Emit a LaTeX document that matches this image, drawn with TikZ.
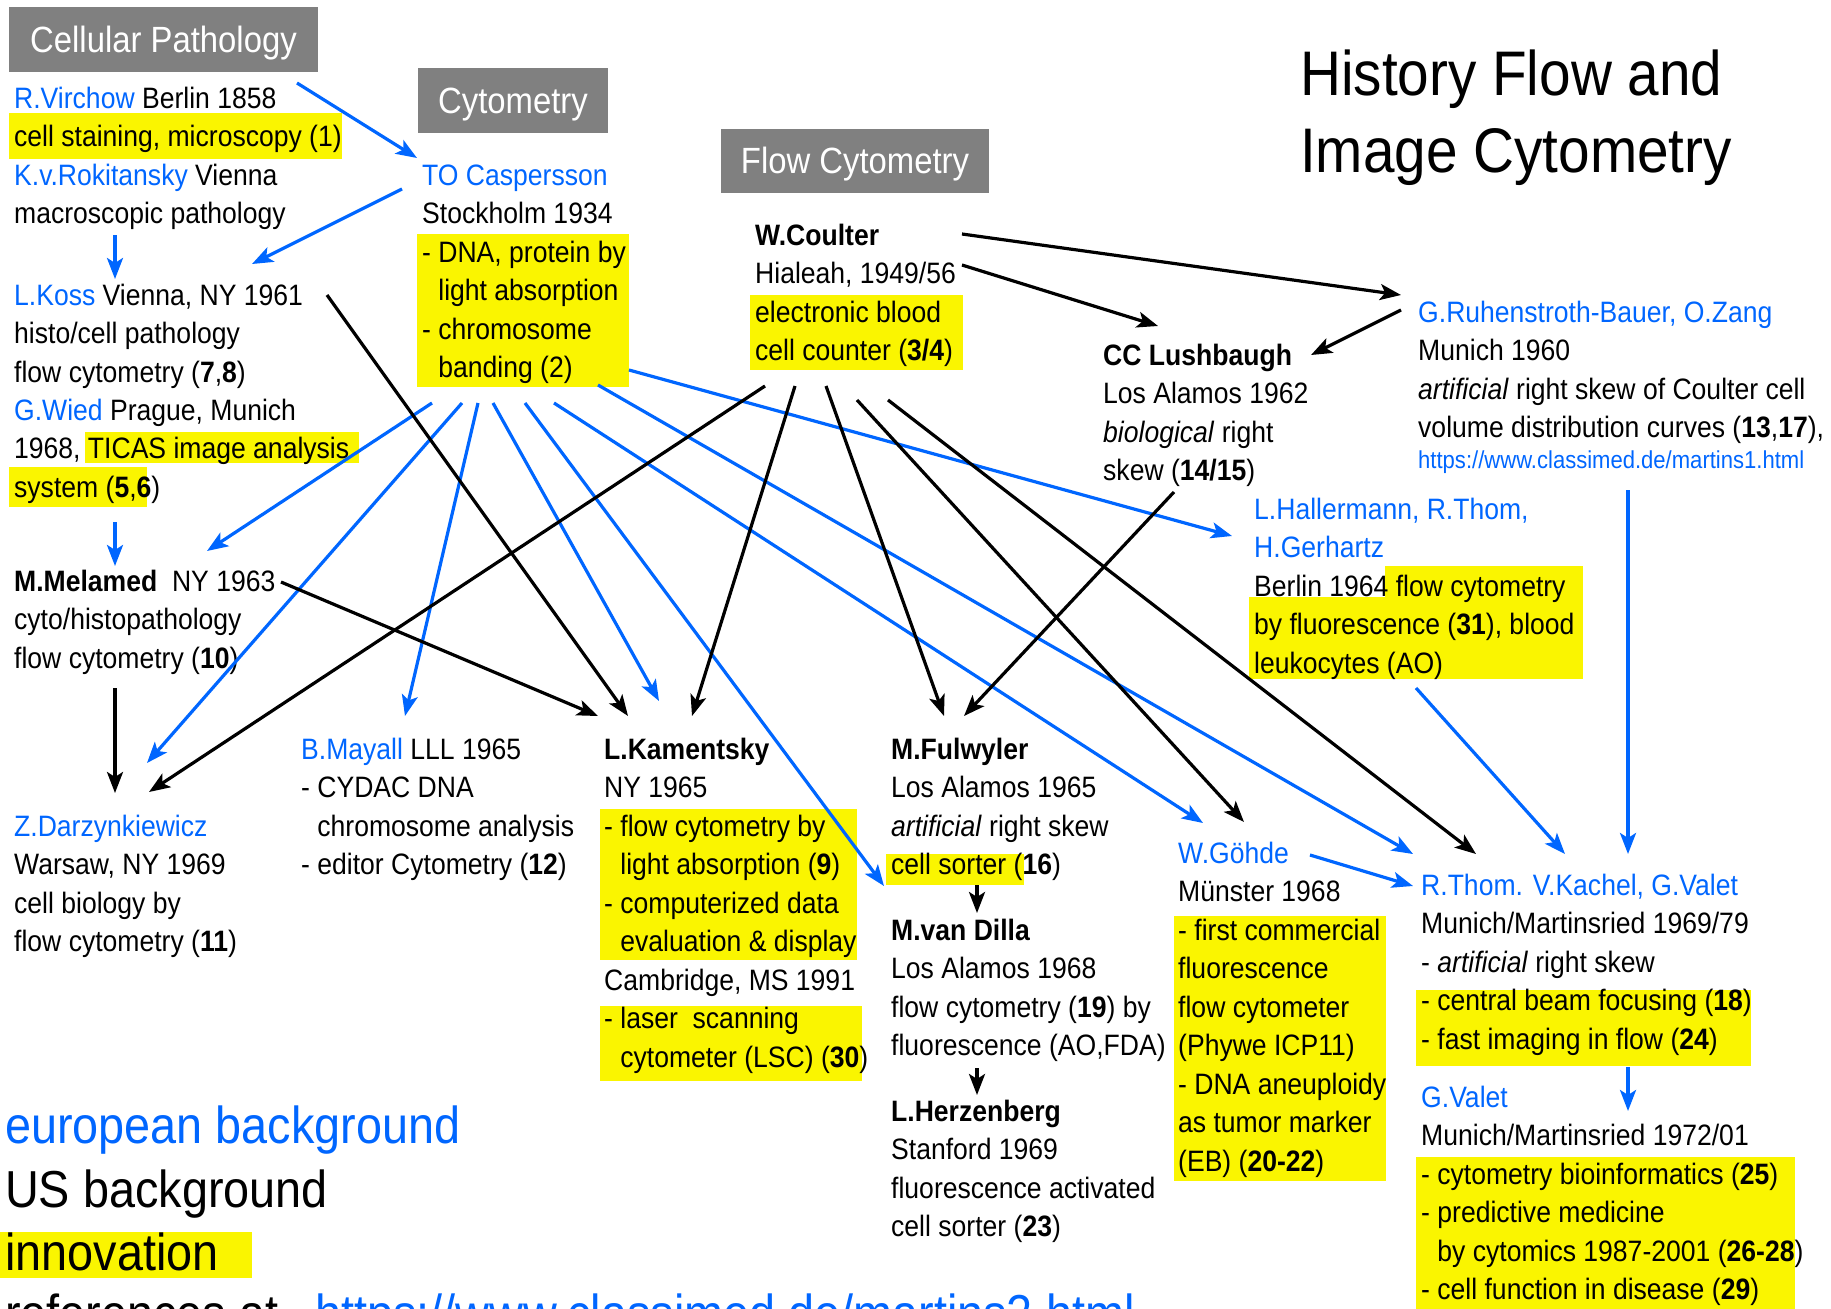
\documentclass[tikz,border=0pt]{standalone}
\usepackage{fontspec}
\setmainfont{Liberation Sans}[FakeStretch=0.9]
\usetikzlibrary{arrows.meta}

\definecolor{cblue}{RGB}{0,102,255}
\definecolor{hlyellow}{RGB}{250,245,0}
\definecolor{boxgray}{RGB}{128,128,128}

\newcommand\bodyfont{\fontsize{29.5}{38.5}\selectfont}
\newcommand\headfont{\fontsize{36.5}{40}\selectfont}
\newcommand\legendfont{\fontsize{52}{64}\selectfont}

% multi-line nodes: base anchor sits on the last line
\tikzset{
  txt/.style={anchor=base west, align=left, inner sep=0pt, font=\bodyfont},
  hl/.style={fill=hlyellow, draw=none},
  headbox/.style={fill=boxgray, text=white, font=\headfont, inner sep=0pt, text height=26pt, text depth=0pt},
  barrow/.style={draw=cblue, line width=3.2pt, -{Stealth[length=21pt,width=16pt,inset=5pt]}},
  karrow/.style={draw=black, line width=3.2pt, -{Stealth[length=21pt,width=16pt,inset=5pt]}}
}

\begin{document}
\begin{tikzpicture}[x=1pt,y=-1pt]
\useasboundingbox (0,0) rectangle (1831,1309);

% highlights
\fill[hl] (9,113) rectangle (342,159);
\fill[hl] (85,432) rectangle (359,463);
\fill[hl] (9,467) rectangle (147,507);
\fill[hl] (417,234) rectangle (629,387);
\fill[hl] (750,295) rectangle (963,370);
\fill[hl] (1385,566) rectangle (1583,597);
\fill[hl] (1249,597) rectangle (1583,679);
\fill[hl] (600,809) rectangle (857,960);
\fill[hl] (600,1006) rectangle (862,1081);
\fill[hl] (886,854) rectangle (1024,885);
\fill[hl] (1174,916) rectangle (1386,1181);
\fill[hl] (1416,990) rectangle (1751,1066);
\fill[hl] (1416,1157) rectangle (1795,1309);
\fill[hl] (0,1232) rectangle (252,1278);

% section headers
\node[headbox, minimum width=309pt, minimum height=65pt] (cellpath) at (163.5,39.5) {Cellular Pathology};
\node[headbox, minimum width=190pt, minimum height=65pt] (cytobox) at (513,100.5) {Cytometry};
\node[headbox, minimum width=268pt, minimum height=64pt] (flowbox) at (855,160.5) {Flow Cytometry};

\node[txt, font=\fontsize{63}{77}\selectfont] (title) at (1300,172) {History Flow and\\Image Cytometry};

% left column
\node[txt] (virchow) at (14,146.5) {{\color{cblue}R.Virchow} Berlin 1858\\cell staining, microscopy (1)};
\node[txt] (rokit) at (14,223.5) {{\color{cblue}K.v.Rokitansky} Vienna\\macroscopic pathology};
\node[txt] (koss) at (14,382) {{\color{cblue}L.Koss} Vienna, NY 1961\\histo/cell pathology\\flow cytometry (\textbf{7},\textbf{8})};
\node[txt] (wied) at (14,497) {{\color{cblue}G.Wied} Prague, Munich\\1968, TICAS image analysis\\system (\textbf{5},\textbf{6})};
\node[txt] (melamed) at (14,668) {\textbf{M.Melamed}\ \ NY 1963\\cyto/histopathology\\flow cytometry (\textbf{10})};
\node[txt] (darz) at (14,951.5) {{\color{cblue}Z.Darzynkiewicz}\\Warsaw, NY 1969\\cell biology by\\flow cytometry (\textbf{11})};

% cytometry column
\node[txt] (casp) at (422,377.5) {{\color{cblue}TO Caspersson}\\Stockholm 1934\\- DNA, protein by\\\phantom{- }light absorption\\- chromosome\\\phantom{- }banding (2)};
\node[txt] (mayall) at (301,874.5) {{\color{cblue}B.Mayall} LLL 1965\\- CYDAC DNA\\\phantom{- }chromosome analysis\\- editor Cytometry (\textbf{12})};
\node[txt] (kam) at (604,1067) {\textbf{L.Kamentsky}\\NY 1965\\- flow cytometry by\\\phantom{- }light absorption (\textbf{9})\\- computerized data\\\phantom{- }evaluation \& display\\Cambridge, MS 1991\\- laser\ \ scanning\\\phantom{- }cytometer (LSC) (\textbf{30})};

% flow cytometry column
\node[txt] (coulter) at (755,360.5) {\textbf{W.Coulter}\\Hialeah, 1949/56\\electronic blood\\cell counter (\textbf{3/4})};
\node[txt] (lush) at (1103,480.5) {\textbf{CC Lushbaugh}\\Los Alamos 1962\\\textit{biological} right\\skew (\textbf{14/15})};
\node[txt] (ruhen) at (1418,437.5) {{\color{cblue}G.Ruhenstroth-Bauer, O.Zang}\\Munich 1960\\\textit{artificial} right skew of Coulter cell\\volume distribution curves (\textbf{13},\textbf{17}),};
\node[txt, font=\fontsize{24.5}{30}\selectfont, text=cblue] (url1) at (1418,468) {https://www.classimed.de/martins1.html};
\node[txt] (haller) at (1254,673) {{\color{cblue}L.Hallermann, R.Thom,}\\{\color{cblue}H.Gerhartz}\\Berlin 1964 flow cytometry\\by fluorescence (\textbf{31}), blood\\leukocytes (AO)};
\node[txt] (fulw) at (891,874.5) {\textbf{M.Fulwyler}\\Los Alamos 1965\\\textit{artificial} right skew\\cell sorter (\textbf{16})};
\node[txt] (dilla) at (891,1055.5) {\textbf{M.van Dilla}\\Los Alamos 1968\\flow cytometry (\textbf{19}) by\\fluorescence (AO,FDA)};
\node[txt] (herz) at (891,1236.5) {\textbf{L.Herzenberg}\\Stanford 1969\\fluorescence activated\\cell sorter (\textbf{23})};
\node[txt] (gohde) at (1178,1171) {{\color{cblue}W.Göhde}\\Münster 1968\\- first commercial\\fluorescence\\flow cytometer\\(Phywe ICP11)\\- DNA aneuploidy\\as tumor marker\\(EB) (\textbf{20-22})};
\node[txt] (thom) at (1421,1049) {{\color{cblue}R.Thom. V.Kachel, G.Valet}\\Munich/Martinsried 1969/79\\- \textit{artificial} right skew\\- central beam focusing (\textbf{18})\\- fast imaging in flow (\textbf{24})};
\node[txt] (valet) at (1421,1299.5) {{\color{cblue}G.Valet}\\Munich/Martinsried 1972/01\\- cytometry bioinformatics (\textbf{25})\\- predictive medicine\\\phantom{- }by cytomics 1987-2001 (\textbf{26-28})\\- cell function in disease (\textbf{29})};

% legend
\node[txt, font=\legendfont, text=cblue] (leg-eu) at (5,1143) {european background};
\node[txt, font=\legendfont] (leg-us) at (5,1207) {US background};
\node[txt, font=\legendfont] (leg-inno) at (5,1270) {innovation};
\node[txt, font=\legendfont] (leg-ref) at (5,1331) {\makebox[310pt][l]{references at}{\color{cblue}https://www.classimed.de/martins2.html}};

% connector ends
\coordinate (virchow-o) at (297,83);   \coordinate (casp-i) at (417,158);
\coordinate (casp-o0) at (402,189);    \coordinate (koss-i1) at (252,264);
\coordinate (rokit-o) at (115,235);    \coordinate (koss-i2) at (115,279);
\coordinate (wied-o) at (115,522);     \coordinate (melamed-i1) at (115,566);
\coordinate (casp-o1) at (432,403);    \coordinate (melamed-i2) at (207,551);
\coordinate (casp-o2) at (462,403);    \coordinate (darz-i1) at (147,763);
\coordinate (casp-o3) at (478,403);    \coordinate (mayall-i) at (405,716);
\coordinate (casp-o4) at (493,403);    \coordinate (kam-i3) at (659,701);
\coordinate (casp-o5) at (525,403);    \coordinate (fulw-i3) at (884,886);
\coordinate (casp-o6) at (554,403);    \coordinate (gohde-i1) at (1203,823);
\coordinate (casp-o7) at (598,385);    \coordinate (thom-i1) at (1413,854);
\coordinate (casp-o8) at (629,370);    \coordinate (haller-i) at (1232,536);
\coordinate (gohde-o) at (1310,855);   \coordinate (thom-i2) at (1413,886);
\coordinate (haller-o) at (1416,688);  \coordinate (thom-i3) at (1565,854);
\coordinate (ruhen-o1) at (1628,490);  \coordinate (thom-i4) at (1628,854);
\coordinate (thom-o) at (1628,1067);   \coordinate (valet-i) at (1628,1111);
\coordinate (koss-o) at (327,295);     \coordinate (kam-i2) at (628,716);
\coordinate (melamed-o1) at (281,582); \coordinate (kam-i1) at (598,716);
\coordinate (melamed-o2) at (115,688); \coordinate (darz-i2) at (115,793);
\coordinate (coulter-o1) at (765,386); \coordinate (darz-i3) at (149,792);
\coordinate (coulter-o2) at (795,386); \coordinate (kam-i4) at (692,716);
\coordinate (coulter-o3) at (826,386); \coordinate (fulw-i1) at (944,716);
\coordinate (coulter-o4) at (857,400); \coordinate (gohde-i2) at (1244,822);
\coordinate (coulter-o5) at (888,400); \coordinate (thom-i5) at (1476,854);
\coordinate (coulter-o6) at (962,265); \coordinate (lush-i1) at (1158,326);
\coordinate (coulter-o7) at (962,234); \coordinate (ruhen-i) at (1401,295);
\coordinate (ruhen-o2) at (1401,310);  \coordinate (lush-i2) at (1311,355);
\coordinate (lush-o) at (1174,492);    \coordinate (fulw-i2) at (964,716);
\coordinate (fulw-o) at (977,885);     \coordinate (dilla-i) at (977,913);
\coordinate (dilla-o) at (977,1068);   \coordinate (herz-i) at (977,1095);

% european lines
\draw[barrow] (virchow-o) -- (casp-i);
\draw[barrow] (casp-o0) -- (koss-i1);
\draw[barrow] (rokit-o) -- (koss-i2);
\draw[barrow] (wied-o) -- (melamed-i1);
\draw[barrow] (casp-o1) -- (melamed-i2);
\draw[barrow] (casp-o2) -- (darz-i1);
\draw[barrow] (casp-o3) -- (mayall-i);
\draw[barrow] (casp-o4) -- (kam-i3);
\draw[barrow] (casp-o5) -- (fulw-i3);
\draw[barrow] (casp-o6) -- (gohde-i1);
\draw[barrow] (casp-o7) -- (thom-i1);
\draw[barrow] (casp-o8) -- (haller-i);
\draw[barrow] (gohde-o) -- (thom-i2);
\draw[barrow] (haller-o) -- (thom-i3);
\draw[barrow] (ruhen-o1) -- (thom-i4);
\draw[barrow] (thom-o) -- (valet-i);

% US lines
\draw[karrow] (koss-o) -- (kam-i2);
\draw[karrow] (melamed-o1) -- (kam-i1);
\draw[karrow] (melamed-o2) -- (darz-i2);
\draw[karrow] (coulter-o1) -- (darz-i3);
\draw[karrow] (coulter-o2) -- (kam-i4);
\draw[karrow] (coulter-o3) -- (fulw-i1);
\draw[karrow] (coulter-o4) -- (gohde-i2);
\draw[karrow] (coulter-o5) -- (thom-i5);
\draw[karrow] (coulter-o6) -- (lush-i1);
\draw[karrow] (coulter-o7) -- (ruhen-i);
\draw[karrow] (ruhen-o2) -- (lush-i2);
\draw[karrow] (lush-o) -- (fulw-i2);
\draw[karrow] (fulw-o) -- (dilla-i);
\draw[karrow] (dilla-o) -- (herz-i);
\end{tikzpicture}
\end{document}
